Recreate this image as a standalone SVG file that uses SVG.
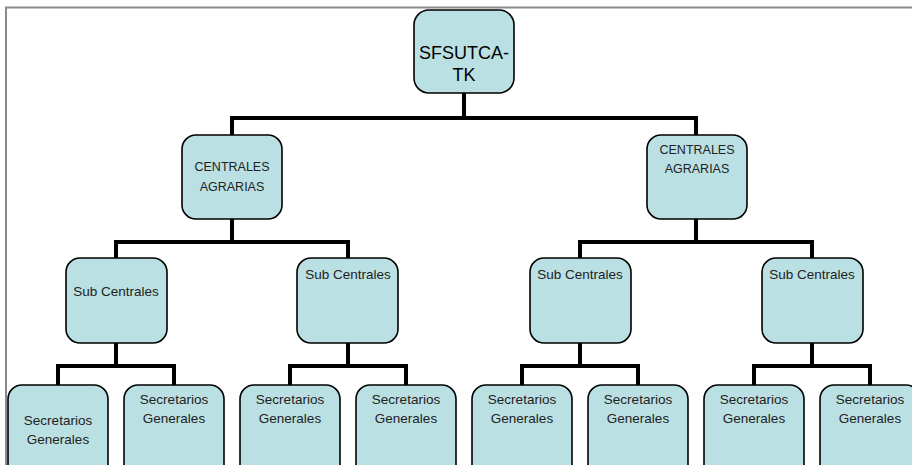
<svg xmlns="http://www.w3.org/2000/svg" width="912" height="465" viewBox="0 0 912 465">
<style>
.box{fill:#bbe0e3;stroke:#000;stroke-width:1.6}
.t1{font-family:"Liberation Sans",Arial,sans-serif;font-size:18px;fill:#000;text-anchor:middle}
.t{font-family:"Liberation Sans",Arial,sans-serif;font-size:13.5px;fill:#222;text-anchor:middle}
.tc{font-family:"Liberation Sans",Arial,sans-serif;font-size:12.5px;fill:#222;text-anchor:middle}
.c{fill:none;stroke:#000;stroke-width:4;stroke-linejoin:miter;stroke-linecap:butt}
</style>
<rect width="912" height="465" fill="#fff"/>
<path d="M6 465 V7.5 H912" fill="none" stroke="#8a8a8a" stroke-width="2"/>
<g id="connectors">
<path class="c" d="M464 93 V118 M232 135 V118 H696 V135"/>
<path class="c" d="M232 219 V242 M116 258 V242 H348 V258"/>
<path class="c" d="M696 219 V242 M580 258 V242 H812 V258"/>
<path class="c" d="M116 343 V366 M58 385 V366 H174 V385"/>
<path class="c" d="M348 343 V366 M290 385 V366 H406 V385"/>
<path class="c" d="M580 343 V366 M522 385 V366 H638 V385"/>
<path class="c" d="M812 343 V366 M754 385 V366 H870 V385"/>
</g>
<g id="n0"><rect class="box" x="414" y="10" width="100" height="83" rx="15"/><text class="t1" x="464" y="59">SFSUTCA-</text><text class="t1" x="464" y="81">TK</text></g>
<g id="c1"><rect class="box" x="182" y="135" width="100" height="84" rx="14"/><text class="tc" x="232" y="171">CENTRALES</text><text class="tc" x="232" y="191">AGRARIAS</text></g>
<g id="c2"><rect class="box" x="647" y="135" width="100" height="84" rx="14"/><text class="tc" x="697" y="154">CENTRALES</text><text class="tc" x="697" y="173">AGRARIAS</text></g>
<g id="s1"><rect class="box" x="66" y="258" width="101" height="85" rx="14"/><text class="t" x="116" y="296">Sub Centrales</text></g>
<g id="s2"><rect class="box" x="297" y="258" width="101" height="85" rx="14"/><text class="t" x="348" y="279">Sub Centrales</text></g>
<g id="s3"><rect class="box" x="530" y="258" width="101" height="85" rx="14"/><text class="t" x="580" y="279">Sub Centrales</text></g>
<g id="s4"><rect class="box" x="762" y="258" width="101" height="85" rx="14"/><text class="t" x="812" y="279">Sub Centrales</text></g>
<g id="l1"><rect class="box" x="8" y="385" width="100" height="95" rx="14"/><text class="t" x="58" y="425">Secretarios</text><text class="t" x="58" y="444">Generales</text></g>
<g id="l2"><rect class="box" x="124" y="385" width="100" height="95" rx="14"/><text class="t" x="174" y="404">Secretarios</text><text class="t" x="174" y="423">Generales</text></g>
<g id="l3"><rect class="box" x="240" y="385" width="100" height="95" rx="14"/><text class="t" x="290" y="404">Secretarios</text><text class="t" x="290" y="423">Generales</text></g>
<g id="l4"><rect class="box" x="356" y="385" width="100" height="95" rx="14"/><text class="t" x="406" y="404">Secretarios</text><text class="t" x="406" y="423">Generales</text></g>
<g id="l5"><rect class="box" x="472" y="385" width="100" height="95" rx="14"/><text class="t" x="522" y="404">Secretarios</text><text class="t" x="522" y="423">Generales</text></g>
<g id="l6"><rect class="box" x="588" y="385" width="100" height="95" rx="14"/><text class="t" x="638" y="404">Secretarios</text><text class="t" x="638" y="423">Generales</text></g>
<g id="l7"><rect class="box" x="704" y="385" width="100" height="95" rx="14"/><text class="t" x="754" y="404">Secretarios</text><text class="t" x="754" y="423">Generales</text></g>
<g id="l8"><rect class="box" x="820" y="385" width="100" height="95" rx="14"/><text class="t" x="870" y="404">Secretarios</text><text class="t" x="870" y="423">Generales</text></g>
</svg>
